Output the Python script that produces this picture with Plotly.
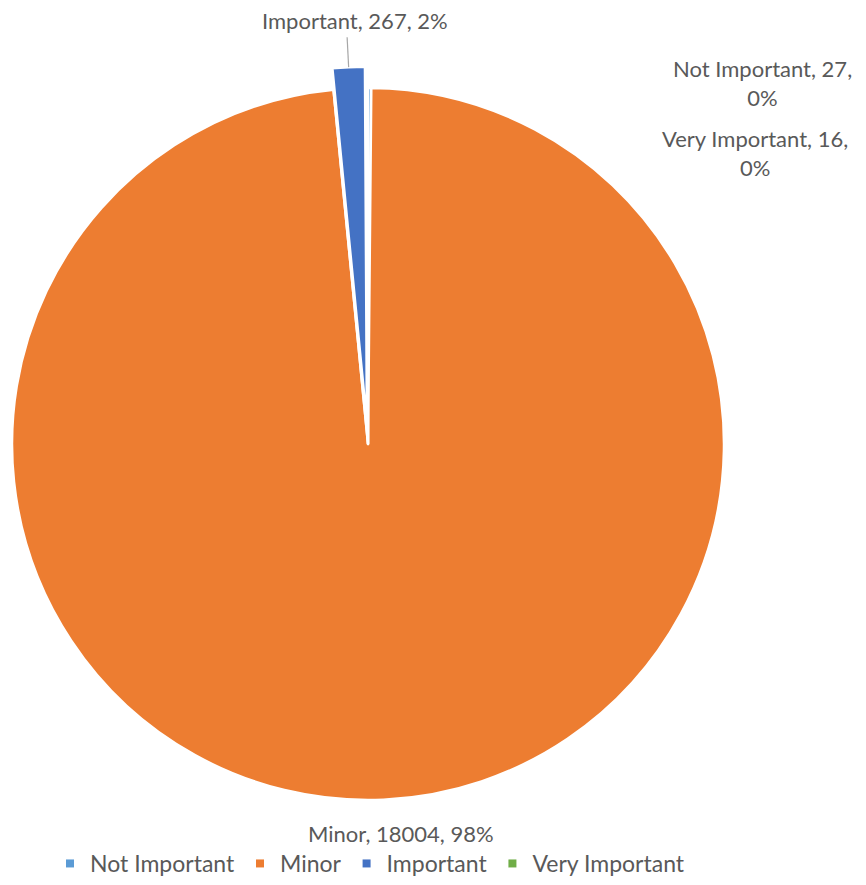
import math
import plotly.graph_objects as go

# Severity categories and their counts
labels = ["Not Important", "Minor", "Important", "Very Important"]
values = [27, 18004, 267, 16]
colors = ["#5B9BD5", "#ED7D31", "#4472C4", "#70AD47"]
exploded = "Important"  # slice pulled out of the pie
explode_frac = 0.06      # pull distance as a fraction of the radius

W, H = 866, 885
FONT = "Lato"
FS = 22
TXT = "#595959"
CLEAR = "rgba(0,0,0,0)"

# Pie geometry in pixels
cx, cy, radius = 368, 444, 356

total = sum(values)


def percents(vals):
    """Whole-number percentages that add up to 100 (largest remainder)."""
    raw = [100 * v / sum(vals) for v in vals]
    base = [math.floor(r) for r in raw]
    left = 100 - sum(base)
    order = sorted(range(len(vals)), key=lambda i: raw[i] - base[i], reverse=True)
    for i in order[:left]:
        base[i] += 1
    return base


pcts = percents(values)


def mid_angle(i):
    start = sum(values[:i]) / total
    end = sum(values[: i + 1]) / total
    return 2 * math.pi * (start + end) / 2  # clockwise from 12 o'clock


def to_paper(px, py):
    return px / W, 1 - py / H


def domain_for(ox, oy):
    return dict(x=[(cx + ox - radius) / W, (cx + ox + radius) / W],
                y=[1 - (cy + oy + radius) / H, 1 - (cy + oy - radius) / H])


ex = labels.index(exploded)
a_ex = mid_angle(ex)
pull_px = explode_frac * radius
off_x, off_y = pull_px * math.sin(a_ex), -pull_px * math.cos(a_ex)

# Base pie: every slice except the exploded one
base_colors = [CLEAR if i == ex else c for i, c in enumerate(colors)]
fig = go.Figure()
fig.add_trace(go.Pie(
    labels=labels, values=values, sort=False, direction="clockwise", rotation=0,
    marker=dict(colors=base_colors, line=dict(color="white", width=2.5)),
    textinfo="none", hoverinfo="label+value+percent", showlegend=False,
    domain=domain_for(0, 0),
))
# Exploded slice, drawn on a pie shifted outward along its mid-angle
ex_colors = [c if i == ex else CLEAR for i, c in enumerate(colors)]
ex_lines = ["white" if i == ex else CLEAR for i in range(len(labels))]
fig.add_trace(go.Pie(
    labels=labels, values=values, sort=False, direction="clockwise", rotation=0,
    marker=dict(colors=ex_colors, line=dict(color=ex_lines, width=2.5)),
    textinfo="none", hoverinfo="skip", showlegend=False,
    domain=domain_for(off_x, off_y),
))

# Legend entries
for lab, col in zip(labels, colors):
    fig.add_trace(go.Scatter(x=[None], y=[None], mode="markers", name=lab,
                             marker=dict(symbol="square", size=8, color=col),
                             showlegend=True, hoverinfo="skip"))


def label_text(i):
    return f"{labels[i]}, {values[i]}, {pcts[i]}%"


def text_ann(text, px, py):
    x, y = to_paper(px, py)
    return dict(text=text, xref="paper", yref="paper", x=x, y=y,
                xanchor="center", yanchor="middle", showarrow=False, align="center",
                font=dict(family=FONT, size=FS, color=TXT))


annotations = []
shapes = []

# Leader line from the exploded slice's outer edge up to its label
r_out = radius + pull_px
lx0, ly0 = cx + r_out * math.sin(a_ex), cy - r_out * math.cos(a_ex)
lx1, ly1 = cx + (r_out + 30) * math.sin(a_ex), cy - (r_out + 30) * math.cos(a_ex)
p0, p1 = to_paper(lx0, ly0), to_paper(lx1, ly1)
shapes.append(dict(type="line", xref="paper", yref="paper",
                   x0=p0[0], y0=p0[1], x1=p1[0], y1=p1[1],
                   line=dict(color="#A6A6A6", width=1.2)))
annotations.append(text_ann(label_text(ex), 355, 20))

# Minor: label below the pie
mi = labels.index("Minor")
annotations.append(text_ann(label_text(mi), 401, 833))

# The two tiny slices: labels stacked at the top right
ni = labels.index("Not Important")
vi = labels.index("Very Important")
annotations.append(text_ann(f"{labels[ni]}, {values[ni]},<br>{pcts[ni]}%", 762, 83))
annotations.append(text_ann(f"{labels[vi]}, {values[vi]},<br>{pcts[vi]}%", 755, 153))

fig.update_layout(
    width=W,
    height=H,
    margin=dict(l=0, r=0, t=0, b=0),
    paper_bgcolor="white",
    plot_bgcolor="white",
    font=dict(family=FONT, size=FS, color=TXT),
    xaxis=dict(visible=False),
    yaxis=dict(visible=False),
    showlegend=True,
    legend=dict(orientation="h", x=370 / W, xanchor="center", y=0,
                yanchor="bottom", font=dict(family=FONT, size=23, color=TXT),
                itemwidth=30, traceorder="normal", bgcolor="rgba(0,0,0,0)"),
    annotations=annotations,
    shapes=shapes,
)

fig.write_html("out.html")
